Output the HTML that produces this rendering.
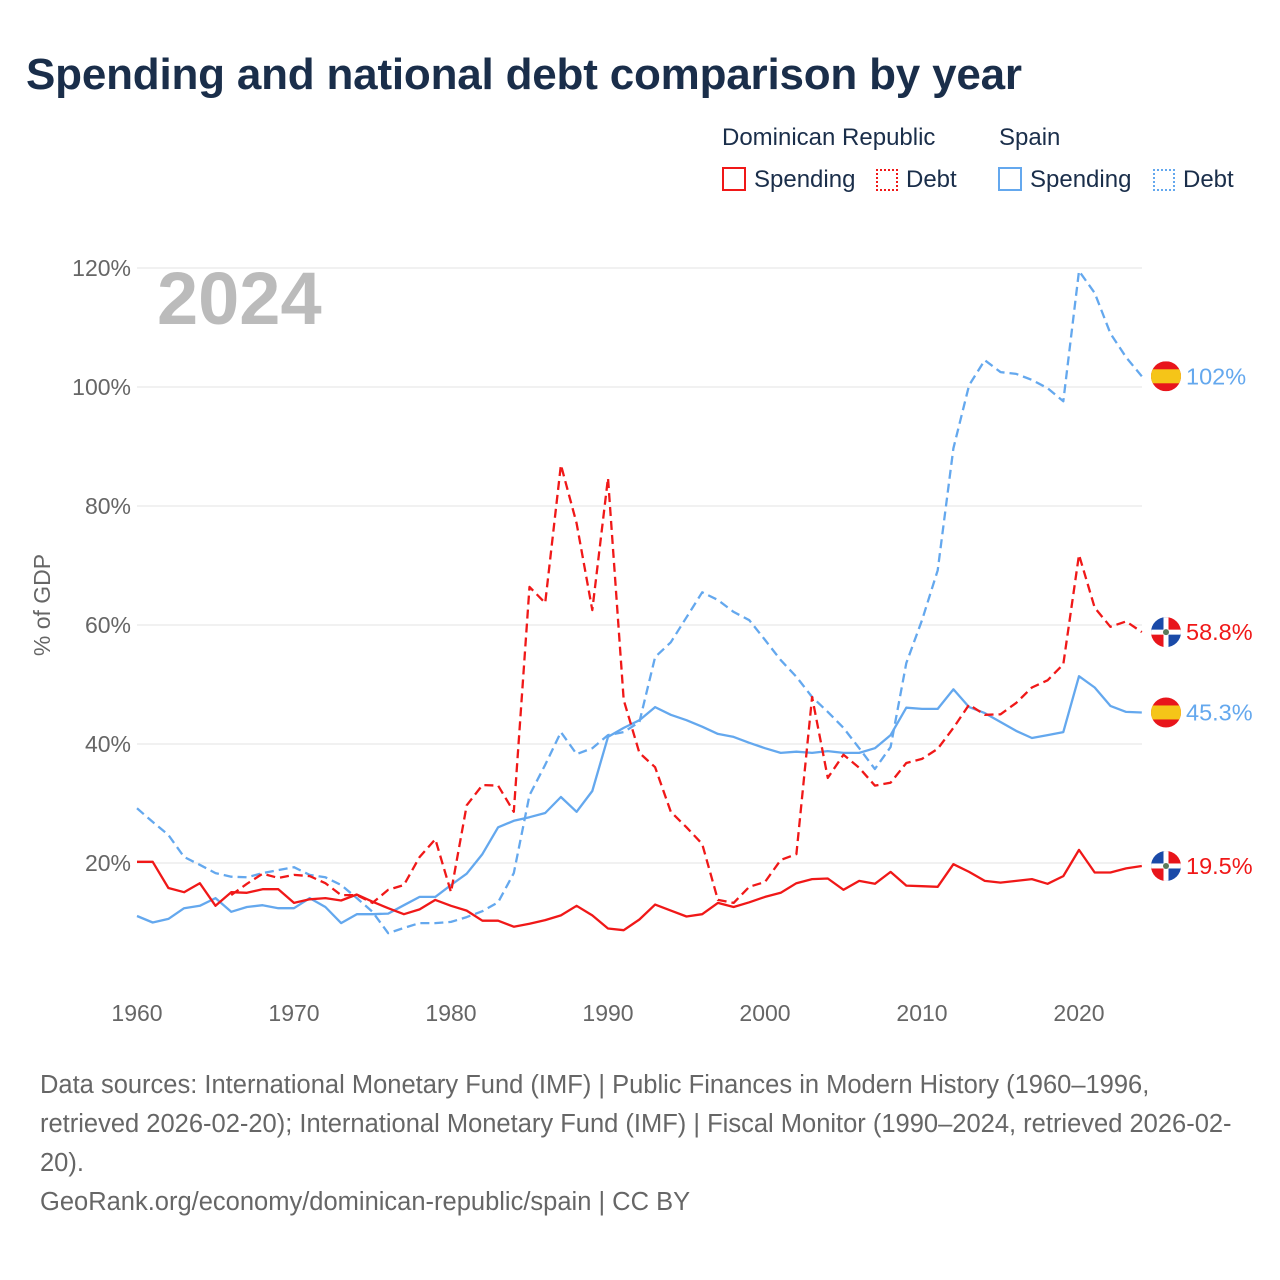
<!DOCTYPE html>
<html><head><meta charset="utf-8"><style>
html,body{margin:0;padding:0;background:#fff;}
body{width:1280px;height:1280px;position:relative;overflow:hidden;font-family:"Liberation Sans",sans-serif;}
.t{position:absolute;white-space:nowrap;}
</style></head><body>
<div class="t" style="left:26px;top:50px;font-size:44px;font-weight:bold;color:#1a2e4a;letter-spacing:-0.2px">Spending and national debt comparison by year</div>
<div class="t" style="left:722px;top:124px;font-size:24px;color:#1a2e4a">Dominican Republic</div>
<div class="t" style="left:999px;top:124px;font-size:24px;color:#1a2e4a">Spain</div>
<div class="t" style="left:722px;top:166px;font-size:24px;color:#1a2e4a"><span style="display:inline-block;width:20px;height:20px;border:2px solid #f01818;vertical-align:-4px;margin-right:8px"></span>Spending</div>
<div class="t" style="left:876px;top:166px;font-size:24px;color:#1a2e4a"><span style="display:inline-block;width:22px;height:22px;border:2px dotted #f01818;vertical-align:-4px;margin-right:8px;box-sizing:border-box"></span>Debt</div>
<div class="t" style="left:998px;top:166px;font-size:24px;color:#1a2e4a"><span style="display:inline-block;width:20px;height:20px;border:2px solid #64a8ee;vertical-align:-4px;margin-right:8px"></span>Spending</div>
<div class="t" style="left:1153px;top:166px;font-size:24px;color:#1a2e4a"><span style="display:inline-block;width:22px;height:22px;border:2px dotted #64a8ee;vertical-align:-4px;margin-right:8px;box-sizing:border-box"></span>Debt</div>

<svg id="chart" width="1280" height="1280" style="position:absolute;left:0;top:0" xmlns="http://www.w3.org/2000/svg"></svg>

<div class="t" style="left:40px;top:1066px;font-size:25.5px;line-height:39px;color:#666;white-space:normal;width:1200px">Data sources: International Monetary Fund (IMF) | Public Finances in Modern History (1960–1996, retrieved 2026-02-20); International Monetary Fund (IMF) | Fiscal Monitor (1990–2024, retrieved 2026-02-20).<br>GeoRank.org/economy/dominican-republic/spain | CC BY</div>

<script>
const startYear = 1960;
const drSpending = [20.2,20.2,15.8,15.1,16.6,12.8,15.1,15.0,15.6,15.6,13.3,13.9,14.1,13.7,14.7,13.5,12.4,11.4,12.2,13.8,12.8,12.0,10.3,10.3,9.3,9.8,10.4,11.2,12.8,11.2,9.0,8.7,10.5,13.0,12.0,11.0,11.4,13.3,12.6,13.4,14.3,15.0,16.6,17.3,17.4,15.5,17.0,16.5,18.5,16.2,16.1,16.0,19.8,18.5,17.0,16.7,17.0,17.3,16.5,17.8,22.2,18.4,18.4,19.1,19.5];
const drDebtStart = 1966;
const drDebt = [14.6,16.5,18.2,17.5,18.0,17.8,16.6,14.6,14.6,13.3,15.5,16.3,21.0,24.0,15.1,29.7,33.1,33.0,28.6,66.4,63.7,86.9,77.1,62.5,84.7,47.4,38.5,36.1,28.6,26.0,23.2,13.8,13.3,16.0,16.8,20.5,21.5,47.9,34.3,38.2,36.0,33.0,33.5,36.8,37.5,39.2,42.7,46.6,44.9,45.0,46.9,49.5,50.7,53.4,71.8,62.9,59.7,60.6,58.8];
const esSpending = [11.1,10.0,10.6,12.4,12.8,14.1,11.8,12.6,12.9,12.4,12.4,14.1,12.6,9.9,11.4,11.4,11.5,12.9,14.3,14.3,16.3,18.2,21.5,26.0,27.1,27.7,28.4,31.1,28.6,32.1,41.2,42.7,44.0,46.2,44.9,44.0,42.9,41.7,41.2,40.2,39.3,38.5,38.7,38.5,38.8,38.5,38.5,39.3,41.5,46.1,45.9,45.9,49.2,46.2,45.2,43.7,42.2,41.0,41.5,42.0,51.4,49.5,46.4,45.4,45.3];
const esDebt = [29.2,26.9,24.7,21.0,19.7,18.3,17.7,17.6,18.3,18.8,19.3,18.0,17.6,16.3,14.1,11.8,8.2,9.1,9.9,9.9,10.1,10.9,11.9,13.4,18.3,31.4,36.5,42.0,38.3,39.3,41.5,42.0,43.7,54.6,57.1,61.3,65.5,64.2,62.2,60.8,57.5,54.1,51.3,47.9,45.4,42.7,39.3,35.8,39.5,53.6,60.8,69.2,89.7,100.3,104.5,102.5,102.2,101.2,99.8,97.6,119.5,115.8,109.0,105.0,101.8];
const yTicks = [20,40,60,80,100,120];
const xTicks = [1960,1970,1980,1990,2000,2010,2020];
const endLabels = ["19.5%","58.8%","45.3%","102%"];

const NS="http://www.w3.org/2000/svg";
const svg=document.getElementById('chart');
function X(yr){return 137+(yr-1960)*15.7;}
function Y(v){return 982-v*5.95;}
function mk(tag,attrs){const e=document.createElementNS(NS,tag);for(const k in attrs)e.setAttribute(k,attrs[k]);svg.appendChild(e);return e;}

yTicks.forEach(v=>{
  const g=mk('line',{x1:137,x2:1142,y1:Y(v),y2:Y(v),stroke:'#e3e3e3','stroke-width':1});
  
  
  const t=mk('text',{x:131,y:Y(v)+8,'text-anchor':'end','font-size':23,fill:'#666','font-family':'Liberation Sans, sans-serif'});
  t.textContent=v+'%';
  
  
});
xTicks.forEach(yr=>{
  const t=mk('text',{x:X(yr),y:1021,'text-anchor':'middle','font-size':23,fill:'#666','font-family':'Liberation Sans, sans-serif'});
  t.textContent=yr;
  
  
});
const yt=mk('text',{x:0,y:0,transform:'translate(50,605) rotate(-90)','text-anchor':'middle','font-size':23,fill:'#666','font-family':'Liberation Sans, sans-serif'});
yt.textContent='% of GDP';


const yr=mk('text',{x:157,y:324,'font-size':74,'font-weight':'bold',fill:'#bbb','font-family':'Liberation Sans, sans-serif'});
yr.textContent='2024';



function series(arr,start,color,dash,name){
  const pts=arr.map((v,i)=>X(start+i).toFixed(1)+','+Y(v).toFixed(1)).join(' ');
  const p=mk('polyline',{points:pts,fill:'none',stroke:color,'stroke-width':2.3,'stroke-linejoin':'round'});
  if(dash)p.setAttribute('stroke-dasharray','9,5');
  
  
}
series(esDebt,startYear,'#64a8ee',true,'spain-debt-line');
series(esSpending,startYear,'#64a8ee',false,'spain-spending-line');
series(drDebt,drDebtStart,'#f01818',true,'dr-debt-line');
series(drSpending,startYear,'#f01818',false,'dr-spending-line');

function flag(cy,type,lbl,color,name){
  const cx=1166;
  const g=document.createElementNS(NS,'g');svg.appendChild(g);
  
  
  const cl=document.createElementNS(NS,'clipPath');cl.setAttribute('id','c'+name);
  const cc=document.createElementNS(NS,'circle');cc.setAttribute('cx',cx);cc.setAttribute('cy',cy);cc.setAttribute('r',15);cl.appendChild(cc);g.appendChild(cl);
  const add=(tag,a)=>{const e=document.createElementNS(NS,tag);for(const k in a)e.setAttribute(k,a[k]);e.setAttribute('clip-path','url(#c'+name+')');g.appendChild(e);};
  if(type==='es'){
    add('rect',{x:cx-15,y:cy-15,width:30,height:30,fill:'#e8151b'});
    add('rect',{x:cx-15,y:cy-7,width:30,height:14,fill:'#f5c518'});
  } else {
    add('rect',{x:cx-15,y:cy-15,width:15,height:15,fill:'#1a4aa8'});
    add('rect',{x:cx,y:cy-15,width:15,height:15,fill:'#e8151b'});
    add('rect',{x:cx-15,y:cy,width:15,height:15,fill:'#e8151b'});
    add('rect',{x:cx,y:cy,width:15,height:15,fill:'#1a4aa8'});
    add('rect',{x:cx-15,y:cy-2.5,width:30,height:5,fill:'#fff'});
    add('rect',{x:cx-2.5,y:cy-15,width:5,height:30,fill:'#fff'});
    add('circle',{cx:cx,cy:cy,r:3,fill:'#5a7a5a'});
  }
  const t=document.createElementNS(NS,'text');
  t.setAttribute('x',1186);t.setAttribute('y',cy+8);t.setAttribute('font-size',23.5);t.setAttribute('fill',color);t.setAttribute('font-family','Liberation Sans, sans-serif');
  t.textContent=lbl;
  g.appendChild(t);
}
flag(Y(drSpending[drSpending.length-1]),'dr',endLabels[0],'#f01818','end-label-dr-spending');
flag(Y(drDebt[drDebt.length-1]),'dr',endLabels[1],'#f01818','end-label-dr-debt');
flag(Y(esSpending[esSpending.length-1]),'es',endLabels[2],'#64a8ee','end-label-spain-spending');
flag(Y(esDebt[esDebt.length-1]),'es',endLabels[3],'#64a8ee','end-label-spain-debt');
</script>
</body></html>
